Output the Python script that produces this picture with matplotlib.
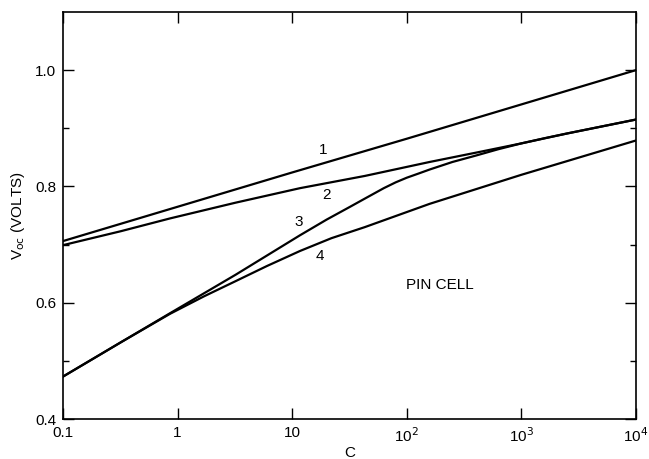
import matplotlib.pyplot as plt
from matplotlib.ticker import FixedLocator, NullLocator

plt.rcParams["font.family"] = ["Liberation Sans", "DejaVu Sans"]

# curve values (C, Voc)
c1 = [0.1, 1, 10, 100, 1000, 10000]
v1 = [0.706, 0.765, 0.824, 0.882, 0.941, 1.0]

c2 = [0.1, 0.32, 0.86, 3.2, 11.7, 43, 158, 400, 1000, 2500, 5000, 10000]
v2 = [0.699, 0.723, 0.745, 0.772, 0.797, 0.818, 0.842, 0.858, 0.874, 0.891, 0.903, 0.915]

c3 = [0.1, 0.32, 0.86, 3.2, 11.7, 20, 32, 43, 63, 80, 100, 126, 158, 250, 400, 630,
      1000, 1600, 2500, 5000, 10000]
v3 = [0.473, 0.532, 0.582, 0.648, 0.716, 0.743, 0.765, 0.779, 0.797, 0.807, 0.815,
      0.822, 0.829, 0.842, 0.853, 0.864, 0.874, 0.883, 0.891, 0.903, 0.915]

c4 = [0.1, 0.32, 0.86, 1.7, 3.2, 6, 11.7, 22, 43, 158, 1000, 10000]
v4 = [0.473, 0.532, 0.581, 0.611, 0.637, 0.663, 0.689, 0.711, 0.730, 0.770, 0.820, 0.879]

curve_labels = ["1", "2", "3", "4"]
label_pos = [(18.5, 0.862), (20, 0.785), (11.5, 0.739), (17.5, 0.680)]

x_ticks = [0.1, 1, 10, 100, 1000, 10000]
x_ticklabels = ["0.1", "1", "10", r"10$^2$", r"10$^3$", r"10$^4$"]
y_ticks = [0.4, 0.6, 0.8, 1.0]
y_ticklabels = ["0.4", "0.6", "0.8", "1.0"]
y_minor = [0.5, 0.7, 0.9]

fig = plt.figure(figsize=(6.49, 4.59), dpi=100)
ax = fig.add_axes([0.097, 0.087, 0.883, 0.887])

for c, v in [(c1, v1), (c2, v2), (c3, v3), (c4, v4)]:
    ax.plot(c, v, color="black", lw=1.6, solid_joinstyle="round")

for lab, (x, y) in zip(curve_labels, label_pos):
    ax.text(x, y, lab, fontsize=11, ha="center", va="center")
ax.text(195, 0.630, "PIN CELL", fontsize=11, ha="center", va="center")

ax.set_xscale("log")
ax.set_xlim(0.1, 10000)
ax.set_ylim(0.4, 1.1)

ax.xaxis.set_major_locator(FixedLocator(x_ticks))
ax.xaxis.set_minor_locator(NullLocator())
ax.set_xticklabels(x_ticklabels)
ax.set_yticks(y_ticks)
ax.set_yticklabels(y_ticklabels)
ax.set_yticks(y_minor, minor=True)

ax.tick_params(which="major", direction="in", length=8, width=1.0,
               top=True, right=True, labelsize=11, pad=5)
ax.tick_params(which="minor", direction="in", length=4.5, width=1.0,
               top=False, right=True)
for s in ax.spines.values():
    s.set_linewidth(1.2)

ax.set_xlabel("C", fontsize=11, labelpad=1)
ax.set_ylabel(r"V$_{\rm oc}$ (VOLTS)", fontsize=11, labelpad=6)

fig.savefig("out.png", dpi=100)
